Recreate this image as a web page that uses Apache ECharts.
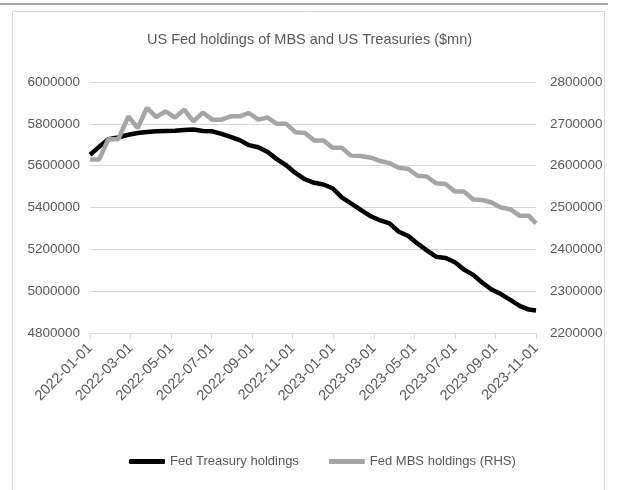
<!DOCTYPE html>
<html>
<head>
<meta charset="utf-8">
<script src="https://cdn.jsdelivr.net/npm/echarts@6/dist/echarts.min.js"></script>
<style>
html,body{margin:0;padding:0;background:#fff;}
#main{width:619px;height:490px;}
</style>
</head>
<body>
<div id="main"></div>
<script>
// biweekly observation dates
let dates = [
  '2022-01-01','2022-01-15','2022-01-29','2022-02-12','2022-02-26','2022-03-12','2022-03-26',
  '2022-04-09','2022-04-23','2022-05-07','2022-05-21','2022-06-04','2022-06-18','2022-07-02',
  '2022-07-16','2022-07-30','2022-08-13','2022-08-27','2022-09-10','2022-09-24','2022-10-08',
  '2022-10-22','2022-11-05','2022-11-19','2022-12-03','2022-12-17','2022-12-31','2023-01-14',
  '2023-01-28','2023-02-11','2023-02-25','2023-03-11','2023-03-25','2023-04-08','2023-04-22',
  '2023-05-06','2023-05-20','2023-06-03','2023-06-17','2023-07-01','2023-07-15','2023-07-29',
  '2023-08-12','2023-08-26','2023-09-09','2023-09-23','2023-10-07','2023-10-21','2023-11-01'
]
// Fed Treasury holdings ($mn)
let treasury = [
  5652000,5690000,5726000,5735000,5748000,5756000,5761000,5764000,5766000,5767000,
  5770000,5773000,5766000,5764000,5752000,5738000,5722000,5698000,5688000,5665000,
  5630000,5602000,5565000,5535000,5518000,5510000,5492000,5448000,5420000,5389000,
  5358000,5338000,5324000,5284000,5264000,5227000,5195000,5165000,5159000,5138000,
  5103000,5078000,5040000,5008000,4986000,4958000,4930000,4912000,4908000
]
// Fed MBS holdings ($mn, RHS)
let mbs = [
  2615000,2615000,2663000,2663000,2718000,2690000,2738000,2716000,2730000,2715000,
  2734000,2706000,2727000,2710000,2710000,2718000,2718000,2726000,2710000,2715000,
  2700000,2700000,2680000,2678000,2660000,2660000,2643000,2643000,2624000,2623000,
  2619000,2611000,2606000,2595000,2592000,2576000,2574000,2558000,2556000,2538000,
  2538000,2519000,2518000,2512000,2500000,2496000,2480000,2480000,2462000
]
let leftTicks = [4800000, 6000000, 200000]
let rightTicks = [2200000, 2800000, 100000]

// date -> months since 2022-01-01
function monthPos(d){
  let p = d.split('-').map(Number)
  let days = new Date(p[0], p[1], 0).getDate()
  return (p[0]-2022)*12 + (p[1]-1) + (p[2]-1)/days
}
function monthLabel(v){
  let y = 2022 + Math.floor(v/12)
  let m = Math.round(v) % 12 + 1
  return y + '-' + (m < 10 ? '0'+m : m) + '-01'
}

let font = 'Liberation Sans'
let txtColor = '#595959'
let gridColor = '#d9d9d9'

let myChart = echarts.init(document.getElementById('main'))
let option = {
  animation: false,
  textStyle: { fontFamily: font },
  title: {
    text: 'US Fed holdings of MBS and US Treasuries ($mn)',
    left: 'center',
    top: 27,
    textStyle: { fontFamily: font, fontSize: 14.5, fontWeight: 'normal', color: txtColor }
  },
  graphic: [
    { type: 'line', shape: { x1: 0, y1: 4, x2: 608, y2: 4 }, style: { stroke: '#a6a6a6', lineWidth: 2 } },
    { type: 'rect', shape: { x: 12.5, y: 11.5, width: 592, height: 490 }, style: { fill: 'none', stroke: '#d9d9d9', lineWidth: 1 } }
  ],
  grid: { left: 90, right: 83, top: 82, bottom: 157 },
  legend: {
    bottom: 17,
    left: 124,
    itemWidth: 36,
    itemHeight: 5,
    itemGap: 30,
    icon: 'roundRect',
    textStyle: { fontFamily: font, fontSize: 13, color: txtColor },
    data: ['Fed Treasury holdings', 'Fed MBS holdings (RHS)']
  },
  xAxis: {
    type: 'value',
    min: 0,
    max: 22,
    interval: 2,
    splitLine: { show: false },
    axisLine: { show: true, onZero: false, lineStyle: { color: gridColor } },
    axisTick: { show: true, length: 6, lineStyle: { color: gridColor } },
    axisLabel: {
      rotate: 45,
      fontSize: 14.5,
      color: txtColor,
      margin: 13,
      formatter: monthLabel
    }
  },
  yAxis: [
    {
      type: 'value',
      min: leftTicks[0], max: leftTicks[1], interval: leftTicks[2],
      axisLine: { show: false },
      axisTick: { show: false },
      axisLabel: { fontSize: 13.5, color: txtColor, margin: 10, formatter: v => String(v) },
      splitLine: { lineStyle: { color: gridColor } }
    },
    {
      type: 'value',
      min: rightTicks[0], max: rightTicks[1], interval: rightTicks[2],
      axisLine: { show: false },
      axisTick: { show: false },
      axisLabel: { fontSize: 13.5, color: txtColor, margin: 14, formatter: v => String(v) },
      splitLine: { show: false }
    }
  ],
  series: [
    {
      name: 'Fed Treasury holdings',
      type: 'line',
      yAxisIndex: 0,
      symbol: 'none',
      data: dates.map((d, i) => [monthPos(d), treasury[i]]),
      lineStyle: { color: '#000', width: 4.5 },
      itemStyle: { color: '#000' }
    },
    {
      name: 'Fed MBS holdings (RHS)',
      type: 'line',
      yAxisIndex: 1,
      symbol: 'none',
      data: dates.map((d, i) => [monthPos(d), mbs[i]]),
      lineStyle: { color: '#a5a5a5', width: 4.5 },
      itemStyle: { color: '#a5a5a5' }
    }
  ]
}
myChart.setOption(option)
</script>
</body>
</html>
